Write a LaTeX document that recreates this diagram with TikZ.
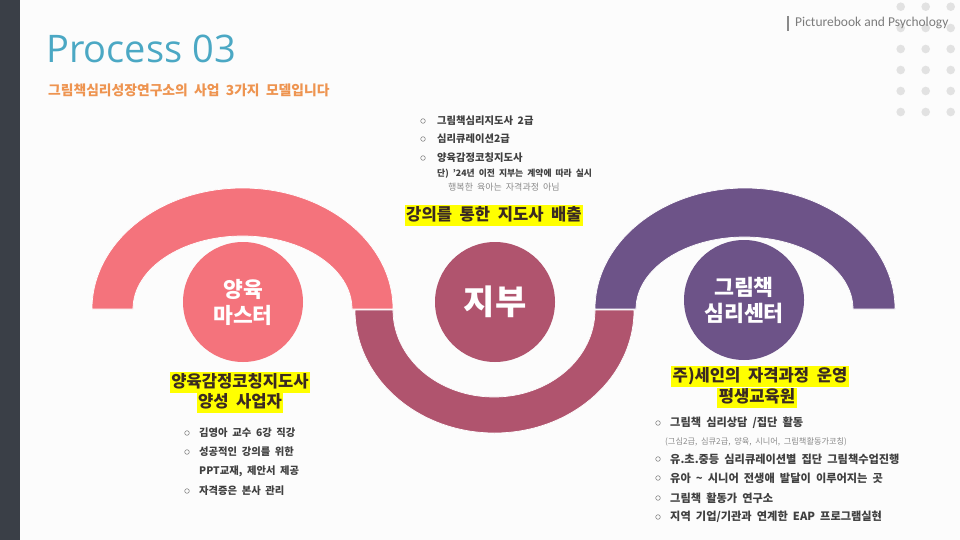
\documentclass[tikz,border=0pt]{standalone}
\usepackage{fontspec}
\setmainfont{Noto Sans CJK KR}[WordSpace=2]
\newfontfamily\latinfont{Open Sans}
\newfontfamily\calfont{Carlito}
\definecolor{bgc}{HTML}{FCFCFC}
\definecolor{barc}{HTML}{3A3F47}
\definecolor{pinkc}{HTML}{F4737C}
\definecolor{wine}{HTML}{B0546E}
\definecolor{purp}{HTML}{6D5388}
\definecolor{titlec}{HTML}{4BA8C4}
\definecolor{orangec}{HTML}{EE9450}
\definecolor{dotc}{HTML}{E2E2E2}
\definecolor{hly}{HTML}{FFFF00}
\definecolor{hltext}{HTML}{3A2A22}
\definecolor{itemc}{HTML}{404040}
\definecolor{grayc}{HTML}{8A8A8A}
\begin{document}
\begin{tikzpicture}[x=1pt,y=-1pt,
  arcb/.style={draw=white, line width=0.7pt},
  hl/.style={fill=hly, text=hltext, font=\fontsize{16.6}{16.6}\selectfont\bfseries, inner xsep=1.5pt, inner ysep=2.5pt, text height=12.5pt, text depth=3pt},
  item/.style={anchor=west, inner sep=0, text=itemc, font=\fontsize{10.3}{10.3}\selectfont\bfseries},
  ritem/.style={item, font=\fontsize{11.2}{11.2}\selectfont\bfseries},
  bul/.style={draw=grayc, line width=0.6pt},
  disc/.style={circle, inner sep=0, minimum size=120pt, text=white, align=center}]
\useasboundingbox (0,0) rectangle (960,540);
\fill[bgc] (0,0) rectangle (960,540);
\fill[barc] (0,0) rectangle (20,540);
% dots
\foreach \x in {900.7,925.7,950.7}
  \foreach \y in {6.7,28,49,70,91,112}
    \fill[dotc] (\x,\y) circle[radius=4.3pt];
% header
\node[anchor=base west, inner sep=0, text=titlec, font=\latinfont\fontsize{38}{38}\selectfont] (title) at (46,63) {Process 03};
\node[anchor=west, inner sep=0, text=orangec, font=\fontsize{13.8}{13.8}\selectfont\bfseries] (subtitle) at (48,90) {그림책심리성장연구소의 사업 3가지 모델입니다};
\draw[grayc, line width=1.1pt] (788,16) -- (788,31);
\node[anchor=west, inner sep=0, text=grayc!90!black, font=\calfont\fontsize{13.5}{13.5}\selectfont] (brand) at (795,23) {Picturebook and Psychology};
% block arcs
\fill[pinkc, arcb] (92,309) arc[start angle=180,end angle=0,x radius=150.5pt,y radius=121pt] -- (352,309) arc[start angle=0,end angle=180,x radius=109.5pt,y radius=73pt] -- cycle;
\fill[purp, arcb] (595,309) arc[start angle=180,end angle=0,x radius=150pt,y radius=121pt] -- (853,309) arc[start angle=0,end angle=180,x radius=108.5pt,y radius=72pt] -- cycle;
\fill[wine, arcb] (355,310) arc[start angle=180,end angle=360,x radius=139.5pt,y radius=123pt] -- (595,310) arc[start angle=0,end angle=-180,x radius=101pt,y radius=87pt] -- cycle;
% circles
\node[disc, fill=pinkc, font=\fontsize{21.5}{26}\selectfont\bfseries] (c1) at (243,302) {양육\\마스터};
\node[disc, fill=wine, font=\fontsize{34}{34}\selectfont\bfseries] (c2) at (495,302) {지부};
\node[disc, fill=purp, font=\fontsize{21.7}{26}\selectfont\bfseries] (c3) at (744,300) {그림책\\심리센터};
% top list
\foreach \y in {121,139,158} \draw[bul] (423,\y) circle[radius=2.3pt];
\node[item] (t1) at (437,121) {그림책심리지도사 2급};
\node[item] (t2) at (437,139) {심리큐레이션2급};
\node[item] (t3) at (437,158) {양육감정코칭지도사};
\node[item, font=\fontsize{8.8}{8.8}\selectfont\bfseries] (t4) at (437,174) {단) ’24년 이전 지부는 계약에 따라 실시};
\node[item, text=grayc, font=\fontsize{9}{9}\selectfont] (t5) at (448,187.5) {행복한 육아는 자격과정 아님};
\node[hl] (h2) at (494,215.5) {강의를 통한 지도사 배출};
% left
\node[hl] (h1a) at (240,382.5) {양육감정코칭지도사};
\node[hl] (h1b) at (240,403) {양성 사업자};
\foreach \y in {433,452,491} \draw[bul] (187,\y) circle[radius=2.3pt];
\node[item] (l1) at (199,433) {김영아 교수 6강 직강};
\node[item] (l2) at (199,452) {성공적인 강의를 위한};
\node[item] (l3) at (199,471) {PPT교재, 제안서 제공};
\node[item] (l4) at (199,491) {자격증은 본사 관리};
% right
\node[hl] (h3a) at (760,376.5) {주)세인의 자격과정 운영};
\node[hl] (h3b) at (757,398) {평생교육원};
\foreach \y in {423,459,478,498,517} \draw[bul] (658,\y) circle[radius=2.3pt];
\node[ritem] (r1) at (670,423) {그림책 심리상담 /집단 활동};
\node[item, text=grayc, font=\fontsize{8.2}{8.2}\selectfont] (r2) at (665,442) {(그심2급, 심큐2급, 양육, 시니어, 그림책활동가코칭)};
\node[ritem] (r3) at (670,459) {유.초.중등 심리큐레이션별 집단 그림책수업진행};
\node[ritem] (r4) at (670,478) {유아 \textasciitilde{} 시니어 전생애 발달이 이루어지는 곳};
\node[ritem] (r5) at (670,498) {그림책 활동가 연구소};
\node[ritem] (r6) at (670,517) {지역 기업/기관과 연계한 EAP 프로그램실현};
\end{tikzpicture}
\end{document}
